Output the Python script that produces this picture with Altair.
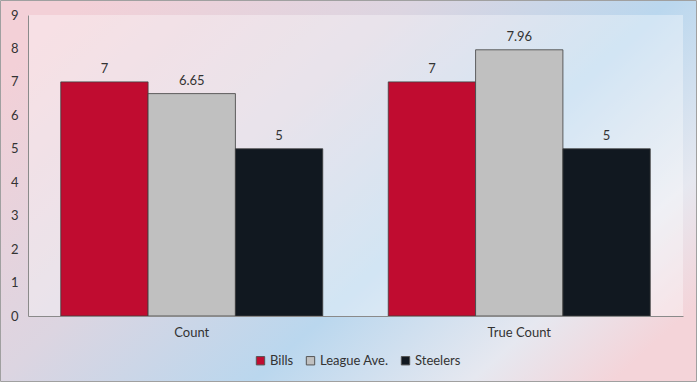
import altair as alt
import pandas as pd

categories = ["Count", "True Count"]
series = ["Bills", "League Ave.", "Steelers"]
values = {
    "Bills": [7, 7],
    "League Ave.": [6.65, 7.96],
    "Steelers": [5, 5],
}
labels = {
    "Bills": ["7", "7"],
    "League Ave.": ["6.65", "7.96"],
    "Steelers": ["5", "5"],
}
colors = ["#c00c30", "#c0c0c0", "#111820"]
y_ticks = list(range(0, 10))

rows = []
for s in series:
    for i, c in enumerate(categories):
        rows.append({"Category": c, "Series": s, "Value": values[s][i], "Label": labels[s][i]})
df = pd.DataFrame(rows)

W, H = 655, 301
PL, PT, PR, PB = 28, 15, 14, 66
FONT = "Lato"
FS = 13

bg = alt.Chart(alt.Data(values=[{}])).mark_rect(
    fill=alt.Gradient(
        gradient="linear",
        stops=[
            alt.GradientStop(color="#f3d0d7", offset=0),
            alt.GradientStop(color="#dcd5e1", offset=0.35),
            alt.GradientStop(color="#bad7ee", offset=0.62),
            alt.GradientStop(color="#e6e8f0", offset=0.85),
            alt.GradientStop(color="#f4d4d9", offset=1),
        ],
        x1=0, y1=0.2, x2=1, y2=0.8,
    ),
    stroke="#a0a0a0", strokeWidth=1,
).encode(
    x=alt.value(-PL + 0.5), x2=alt.value(W + PR - 0.5),
    y=alt.value(-PT + 0.5), y2=alt.value(H + PB - 0.5),
)

plotbg = alt.Chart(alt.Data(values=[{}])).mark_rect(
    fill="#ffffff", fillOpacity=0.35,
).encode(
    x=alt.value(0), x2=alt.value(W), y=alt.value(0), y2=alt.value(H),
)

base = alt.Chart(df)

x_enc = alt.X(
    "Category:N", sort=categories,
    scale=alt.Scale(paddingInner=0.2, paddingOuter=0.1),
    axis=alt.Axis(title=None, labelAngle=0, ticks=False, domainColor="#8a8a8a", zindex=1,
                  labelFont=FONT, labelFontSize=FS, labelColor="#333333", labelPadding=10),
)
xoff = alt.XOffset("Series:N", sort=series, scale=alt.Scale(paddingInner=0, paddingOuter=0))
y_enc = alt.Y(
    "Value:Q", scale=alt.Scale(domain=[0, 9], nice=False),
    axis=alt.Axis(title=None, values=y_ticks, tickCount=10, grid=False, ticks=False,
                  domainColor="#8a8a8a", zindex=1,
                  labelOverlap=False, labelFont=FONT, labelFontSize=FS, labelColor="#333333",
                  labelPadding=10),
)

bars = base.mark_bar(stroke="#404040", strokeWidth=1, strokeOpacity=0.8).encode(
    x=x_enc, xOffset=xoff, y=y_enc,
    color=alt.Color(
        "Series:N", sort=series,
        scale=alt.Scale(domain=series, range=colors),
        legend=alt.Legend(
            title=None, orient="none", direction="horizontal",
            legendX=226, legendY=339, zindex=1,
            symbolType="square", symbolSize=70, symbolStrokeColor="#555555", symbolStrokeWidth=1,
            labelFont=FONT, labelFontSize=FS, labelColor="#333333",
            columnPadding=10, symbolOffset=0, labelOffset=3,
        ),
    ),
)

text = base.mark_text(baseline="bottom", dy=-6, font=FONT, fontSize=FS, color="#333333").encode(
    x=x_enc, xOffset=xoff, y=y_enc, text="Label:N",
)

chart = alt.layer(bg, plotbg, bars, text).properties(
    width=W, height=H,
    autosize=alt.AutoSizeParams(type="none"),
    padding={"left": PL, "top": PT, "right": PR, "bottom": PB},
).configure_view(stroke=None)

chart.save("out.html", embed_options={"renderer": "svg", "actions": False})
